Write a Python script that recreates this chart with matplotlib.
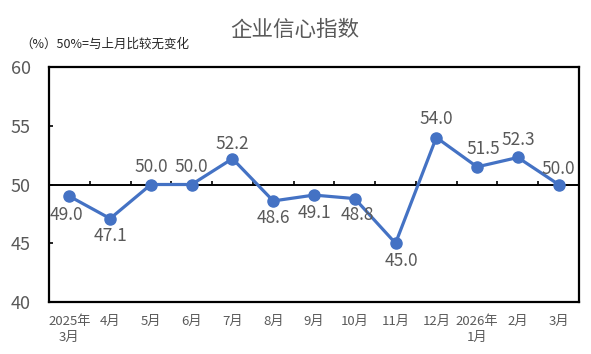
import matplotlib
matplotlib.use("Agg")
import matplotlib.pyplot as plt
import numpy as np

plt.rcParams['font.family'] = ['Noto Sans CJK SC', 'DejaVu Sans']

categories = ["2025年\n3月", "4月", "5月", "6月", "7月", "8月", "9月", "10月",
              "11月", "12月", "2026年\n1月", "2月", "3月"]
values = [49.0, 47.1, 50.0, 50.0, 52.2, 48.6, 49.1, 48.8, 45.0, 54.0, 51.5, 52.3, 50.0]
yticks = [40, 45, 50, 55, 60]

# label offsets in pixels (dx, dy)
offsets = [(-3, -19), (0, -17), (0, 17), (0, 17), (0, 15), (0, -17), (0, -18),
           (3, -16), (6, -18), (0, 18), (6, 18), (0, 17), (0, 16)]

blue = "#4472C4"
gray = "#595959"

fig = plt.figure(figsize=(5.91, 3.54), dpi=100)
ax = fig.add_axes([49/591, 1-302/354, 530/591, 235/354])

x = np.arange(len(values))
ax.plot(x, values, color=blue, lw=2.3, marker="o", ms=8, zorder=3)
ax.set_xlim(-0.5, len(values) - 0.5)
ax.set_ylim(40, 60)
ax.axhline(50, color="black", lw=1.4, zorder=2)
ax.vlines(np.arange(1, len(values)) - 0.5, 50, 50.3, color="black", lw=1.2, zorder=2)

for xi, v, (dx, dy) in zip(x, values, offsets):
    ax.annotate(f"{v:.1f}", (xi, v), xytext=(dx, dy), textcoords="offset pixels",
                ha="center", va="center", fontsize=12.5, color=gray)

ax.set_yticks(yticks)
ax.tick_params(axis="y", direction="in", length=3, width=1.2, labelsize=13,
               labelcolor=gray, pad=13)
ax.set_xticks(x)
ax.set_xticklabels(categories, fontsize=9.5, color=gray, linespacing=1.3)
ax.tick_params(axis="x", length=0, pad=9)
for s in ax.spines.values():
    s.set_linewidth(1.6)
    s.set_color("black")

fig.text(295/591, 1-30/354, "企业信心指数", ha="center", va="center", fontsize=15.5,
         color=gray)
fig.text(20/591, 1-44/354, "（%）50%=与上月比较无变化", ha="left", va="center", fontsize=9,
         color="#262626")

fig.savefig("out.png", dpi=100)
